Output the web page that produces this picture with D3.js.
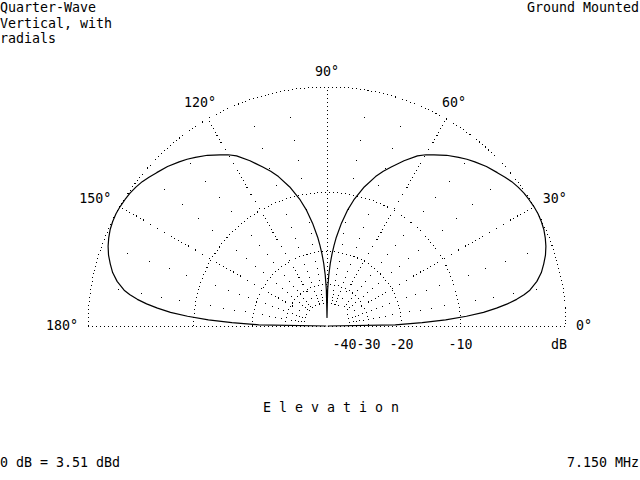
<!DOCTYPE html>
<html>
<head>
<meta charset="utf-8">
<script src="https://cdn.jsdelivr.net/npm/d3@7"></script>
<style>
  html, body { margin: 0; padding: 0; background: #fff; }
  text { font-family: "DejaVu Sans Mono", "Liberation Mono", monospace; font-size: 13.3px; fill: #000; }
</style>
</head>
<body>
<svg id="chart" width="640" height="480"></svg>
<script>
// elevation pattern (right half, mirrored for the left)
var elevDeg = [0, 1, 2, 3, 4, 5, 6, 7, 8, 9, 10, 12, 14, 16, 18, 20, 22, 24, 26, 28, 30,
  32, 34, 36, 38, 40, 42, 45, 48, 50, 52, 55, 58, 60, 62, 65, 68, 70, 72, 75, 78, 80,
  82, 84, 85, 86, 87, 88, 89, 90];
var gainDb = [-99, -21.5, -15.8, -12.0, -9.2, -7.2, -5.8, -4.7, -3.8, -3.1, -2.55, -1.85,
  -1.35, -1.0, -0.68, -0.44, -0.26, -0.12, -0.04, 0, -0.01, -0.05, -0.1, -0.2, -0.33,
  -0.52, -0.72, -1.0, -1.35, -1.6, -1.9, -2.35, -2.9, -3.25, -3.7, -4.65, -5.7, -6.4,
  -7.2, -8.7, -10.6, -12.2, -14.3, -16.9, -18.6, -20.5, -23.0, -26.5, -32.5, -57];

var ringDb = [0, -10, -20, -30, -40];
var dbLabels = ["-10", "-20", "-30", "-40"];
var spokeDeg = [30, 60, 90, 120, 150];
var angleDeg = [0, 30, 60, 90, 120, 150, 180];
var angleLabels = ["0°", "30°", "60°", "90°", "120°", "150°", "180°"];
var titleLines = ["Quarter-Wave", "Vertical, with", "radials"];

var cx = 327, cy = 326, R = 239, charW = 8;

var svg = d3.select("#chart");

// ARRL log scale: each 2 dB down is a factor 0.89 in radius
var expScale = d3.scaleLinear().domain([0, -2]).range([0, 1]);
function rScale(db) { return R * Math.pow(0.89, expScale(db)); }
function toRad(deg) { return deg * Math.PI / 180; }

var g = svg.append("g").attr("transform", "translate(" + cx + "," + cy + ")");

// rings
var grid = g.append("g")
  .attr("fill", "none")
  .attr("stroke", "#000")
  .attr("stroke-width", 1)
  .attr("stroke-dasharray", "1 3")
  .attr("shape-rendering", "crispEdges");

grid.selectAll("path.ring")
  .data(ringDb)
  .enter()
  .append("path")
  .attr("class", "ring")
  .attr("d", function (d) {
    var r = rScale(d), p = d3.path();
    p.moveTo(-r, 0);
    p.arc(0, 0, r, Math.PI, 2 * Math.PI);
    return p.toString();
  });

// baseline
grid.append("line")
  .attr("x1", -R).attr("x2", R)
  .attr("y1", 0.5).attr("y2", 0.5);

// spokes every 30 deg
grid.selectAll("line.spoke")
  .data(spokeDeg)
  .enter()
  .append("line")
  .attr("class", "spoke")
  .attr("x1", function (d) { return rScale(-40) * Math.cos(toRad(d)); })
  .attr("y1", function (d) { return -rScale(-40) * Math.sin(toRad(d)); })
  .attr("x2", function (d) { return R * Math.cos(toRad(d)); })
  .attr("y2", function (d) { return -R * Math.sin(toRad(d)); });

// sparse dots every 10 deg at each 2 dB step
var dots = [];
d3.range(10, 180, 10).forEach(function (a) {
  if (a % 30 === 0) return;
  d3.range(-2, -40, -2).forEach(function (db) {
    if (db % 10 === 0) return;
    dots.push({ a: a, db: db });
  });
});
g.append("g")
  .attr("shape-rendering", "crispEdges")
  .selectAll("rect")
  .data(dots)
  .enter()
  .append("rect")
  .attr("x", function (d) { return Math.round(rScale(d.db) * Math.cos(toRad(d.a))); })
  .attr("y", function (d) { return Math.round(-rScale(d.db) * Math.sin(toRad(d.a))); })
  .attr("width", 1)
  .attr("height", 1)
  .attr("fill", "#000");

// pattern
var pts = elevDeg.map(function (e, i) { return { th: e, g: gainDb[i] }; });
var mirror = elevDeg.slice().reverse().map(function (e, i) {
  return { th: 180 - e, g: gainDb[elevDeg.length - 1 - i] };
});
var pattern = pts.concat(mirror.slice(1));

var line = d3.lineRadial()
  .angle(function (d) { return Math.PI / 2 - toRad(d.th); })
  .radius(function (d) { return rScale(d.g); });

g.append("path")
  .datum(pattern)
  .attr("d", line)
  .attr("fill", "none")
  .attr("stroke", "#000")
  .attr("stroke-width", 1.2)
  .attr("stroke-linejoin", "round");

// angle labels
g.selectAll("text.ang")
  .data(angleDeg)
  .enter()
  .append("text")
  .attr("class", "ang")
  .each(function (d, i) {
    var t = toRad(d), c = Math.cos(t);
    var side = Math.abs(c) > 0.6;
    var r = side ? R + 10 : R + 15;
    var x = r * c, y = -r * Math.sin(t);
    d3.select(this)
      .attr("x", x)
      .attr("y", y + 4 - 3 * Math.abs(Math.sin(2 * t)))
      .attr("text-anchor", side ? (c > 0 ? "start" : "end") : "middle")
      .text(angleLabels[i]);
  });

// dB labels under the baseline, pushed apart if they would touch
var lab = dbLabels.map(function (s) { return { s: s, x: rScale(+s) }; });
var w = 3 * charW, prevLeft = Infinity;
lab.forEach(function (d) {
  var right = d.x + w / 2;
  if (right > prevLeft) d.x -= right - prevLeft;
  prevLeft = d.x - w / 2;
});
g.selectAll("text.db")
  .data(lab)
  .enter()
  .append("text")
  .attr("class", "db")
  .attr("x", function (d) { return d.x; })
  .attr("y", 23)
  .attr("text-anchor", "middle")
  .text(function (d) { return d.s; });

g.append("text")
  .attr("x", R + 1)
  .attr("y", 23)
  .attr("text-anchor", "end")
  .text("dB");

// corner texts
svg.selectAll("text.title")
  .data(titleLines)
  .enter()
  .append("text")
  .attr("class", "title")
  .attr("x", 0)
  .attr("y", function (d, i) { return 12 + i * 15.5; })
  .text(function (d) { return d; });

svg.append("text").attr("x", 639).attr("y", 12).attr("text-anchor", "end").text("Ground Mounted");
svg.append("text").attr("x", 263).attr("y", 412).text("E l e v a t i o n");
svg.append("text").attr("x", 0).attr("y", 467).text("0 dB = 3.51 dBd");
svg.append("text").attr("x", 639).attr("y", 467).attr("text-anchor", "end").text("7.150 MHz");
</script>
</body>
</html>
